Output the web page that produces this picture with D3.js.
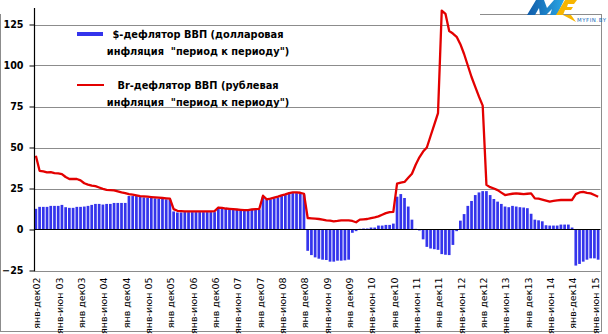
<!DOCTYPE html>
<html><head><meta charset="utf-8">
<script src="https://cdn.jsdelivr.net/npm/d3@7/dist/d3.min.js"></script>
<style>body{margin:0;background:#fff}svg{display:block}</style>
</head><body>
<svg id="c" width="608" height="334"></svg>
<script>
// ---- DATA ----
const monthNames = ["янв","фев","мар","апр","май","июн","июл","авг","сен","окт","ноя","дек"];
const years = ["03","04","05","06","07","08","09","10","11","12","13","14","15"];
const lastMonthOf2015 = 7; // data through July 2015
const firstCategory = "янв-дек02";

// $-deflator (dollar inflation, period to period), one value per category
const usdDeflator = [
  12.6,
  13.8, 13.8, 13.8, 14.4, 14.4, 14.4, 15.0, 13.6, 13.2, 13.2, 13.8, 13.8,
  14.0, 14.4, 15.0, 15.6, 15.6, 15.2, 15.6, 15.6, 16.2, 16.2, 16.2, 16.2,
  20.4, 20.4, 20.4, 20.0, 19.6, 19.4, 19.2, 19.0, 18.8, 18.6, 18.4, 18.2,
  11.0, 10.4, 10.4, 10.6, 10.6, 10.6, 10.6, 10.6, 10.6, 10.6, 10.6, 10.6,
  13.0, 12.8, 12.6, 12.4, 12.4, 12.2, 12.0, 11.8, 11.8, 12.0, 12.2, 12.2,
  20.0, 18.2, 18.4, 19.0, 19.6, 20.4, 21.0, 21.8, 22.2, 22.2, 22.0, 21.4,
  -13.0, -15.6, -17.0, -17.8, -18.4, -18.6, -19.6, -19.6, -19.0, -19.0, -18.8, -18.4,
  -2.0, -1.0, 0.4, 0.6, 0.6, 1.2, 1.2, 2.4, 2.4, 2.8, 2.8, 3.6,
  20.0, 21.6, 19.2, 14.0, 6.0, 0.4, -0.6, -6.0, -10.6, -11.6, -12.0, -12.4,
  -15.0, -15.4, -15.6, -9.4, -1.0, 5.4, 9.4, 14.4, 17.4, 21.0, 22.6, 23.4,
  23.4, 21.0, 18.6, 17.0, 15.6, 14.0, 13.6, 14.4, 14.0, 13.6, 13.4, 13.0,
  9.6, 6.0, 5.6, 5.0, 2.6, 2.4, 2.4, 2.4, 3.0, 3.0, 3.0, 1.2,
  -22.0, -21.0, -19.6, -18.4, -17.6, -17.6, -18.4
];

// Br-deflator (ruble inflation, period to period)
const brDeflator = [
  45.0,
  35.8, 35.4, 34.8, 35.0, 34.4, 34.2, 33.8, 32.0, 30.8, 30.8, 30.8, 30.0,
  28.2, 27.4, 26.8, 26.4, 25.6, 24.8, 24.2, 24.0, 23.8, 23.2, 22.6, 22.2,
  21.6, 21.2, 20.8, 20.4, 20.2, 20.0, 19.8, 19.6, 19.4, 19.2, 19.0, 18.8,
  12.4, 11.4, 11.2, 11.0, 11.0, 11.0, 11.0, 11.0, 11.0, 11.0, 11.0, 11.2,
  13.4, 13.2, 12.8, 12.6, 12.4, 12.2, 12.0, 11.8, 11.8, 12.2, 12.4, 12.6,
  20.6, 18.4, 18.8, 19.4, 20.0, 20.8, 21.4, 22.2, 22.6, 22.6, 22.4, 21.8,
  7.0, 6.8, 6.6, 6.4, 6.0, 5.6, 5.4, 5.0, 5.2, 5.6, 5.6, 5.6,
  5.2, 4.4, 6.0, 6.2, 6.4, 7.0, 7.4, 8.0, 9.0, 10.0, 10.6, 10.8,
  28.0, 28.6, 29.0, 31.5, 34.0, 39.5, 44.0, 47.5, 50.0, 57.0, 64.0, 71.0,
  133.5, 131.5, 121.0, 119.5, 117.5, 113.0, 107.0, 100.0, 93.0, 87.0, 81.0, 75.5,
  27.2, 25.8, 25.0, 24.0, 22.5, 21.0, 21.4, 21.8, 22.0, 21.8, 21.6, 21.8,
  22.0, 19.0, 18.8, 18.2, 17.6, 17.0, 17.4, 17.8, 18.0, 18.0, 18.0, 18.0,
  21.6, 22.6, 23.0, 22.4, 22.0, 21.0, 20.0
];

const tickLabels = [
  "янв-дек02","янв-июн 03","янв дек03","янв-июн 04","янв дек04","янв-июн 05",
  "янв дек05","янв-июн 06","янв дек06","янв-июн 07","янв дек07","янв-июн 08",
  "янв дек08","янв-июн 09","янв дек09","янв-июн 10","янв дек10","янв-июн 11",
  "янв дек11","янв-июн 12","янв дек12","янв-июн 13","янв дек13","янв-июн 14",
  "янв-дек14","янв-июн 15"
];
const tickEvery = 6;
const yTicks = [-25, 0, 25, 50, 75, 100, 125];

const legendUsd = ["$-дефлятор ВВП (долларовая", "инфляция  \"период к периоду\")"];
const legendBr  = ["Br-дефлятор ВВП (рублевая", "инфляция  \"период к периоду\")"];

// build monthly category names
const categories = [firstCategory];
years.forEach(yy => {
  const n = yy === "15" ? lastMonthOf2015 : 12;
  for (let m = 0; m < n; m++) {
    categories.push(m === 0 ? "янв " + yy : "янв-" + monthNames[m] + " " + yy);
  }
});

// ---- CHART ----
const svg = d3.select("#c");
const plotLeft = 34, plotRight = 600, axisTop = 8;

const x = d3.scaleBand().domain(categories).range([plotLeft, plotRight]).paddingInner(0.27).paddingOuter(0.135);
const y = d3.scaleLinear().domain([-25, 125]).range([270.5, 24.5]);

const BLUE = "#3434ec", RED = "#e30000", GRID = "#8c8c8c";

// borders
svg.append("line").attr("x1", 601.5).attr("x2", 601.5).attr("y1", 14).attr("y2", 332).attr("stroke", GRID);
svg.append("line").attr("x1", 0.5).attr("x2", 601.5).attr("y1", 331.5).attr("y2", 331.5).attr("stroke", GRID);
svg.append("line").attr("x1", 0.5).attr("x2", 0.5).attr("y1", 14).attr("y2", 332).attr("stroke", GRID);
svg.append("line").attr("x1", 480).attr("x2", 601.5).attr("y1", 14.5).attr("y2", 14.5).attr("stroke", GRID);

// gridlines
svg.append("g").selectAll("line").data(yTicks.filter(d => d !== 0)).join("line")
  .attr("x1", plotLeft).attr("x2", 600.5)
  .attr("y1", d => Math.round(y(d)) + 0.5).attr("y2", d => Math.round(y(d)) + 0.5)
  .attr("stroke", GRID).attr("stroke-width", 1);

// legend (under data, transparent)
const lg = svg.append("g").attr("font-family", "DejaVu Sans, Verdana, sans-serif")
  .attr("font-weight", "bold").attr("font-size", "9.8px").attr("fill", "#000");
lg.append("rect").attr("x", 77).attr("y", 32).attr("width", 26).attr("height", 4).attr("fill", BLUE);
lg.append("line").attr("x1", 77).attr("x2", 104).attr("y1", 85).attr("y2", 85).attr("stroke", RED).attr("stroke-width", 2);
[[legendUsd, 38], [legendBr, 88.5]].forEach(([lines, by]) => {
  lines.forEach((t, i) => {
    lg.append("text").attr("x", 198).attr("y", by + i * 17).attr("text-anchor", "middle")
      .style("white-space", "pre").text(t);
  });
});

// bars
svg.append("g").selectAll("rect").data(usdDeflator).join("rect")
  .attr("x", (d, i) => x(categories[i]))
  .attr("width", x.bandwidth())
  .attr("y", d => Math.min(y(d), y(0)))
  .attr("height", d => Math.abs(y(d) - y(0)))
  .attr("fill", BLUE);

// zero axis line
svg.append("line").attr("x1", plotLeft).attr("x2", 600.5).attr("y1", y(0)).attr("y2", y(0))
  .attr("stroke", "#000").attr("stroke-width", 1.2);

// red line
const line = d3.line().x((d, i) => x(categories[i]) + x.bandwidth() / 2).y(d => y(d));
svg.append("path").datum(brDeflator).attr("d", line)
  .attr("fill", "none").attr("stroke", RED).attr("stroke-width", 2.3).attr("stroke-linejoin", "round");

// y axis
const yAxis = d3.axisLeft(y).tickValues(yTicks).tickSize(5).tickPadding(6).tickFormat(d3.format("d"));
const ya = svg.append("g").attr("transform", `translate(${plotLeft + 0.5},0)`).call(yAxis);
ya.select(".domain").remove();
ya.selectAll(".tick line").attr("stroke", "#000");
ya.selectAll("text").attr("font-family", "DejaVu Sans, Verdana, sans-serif")
  .attr("font-weight", "bold").attr("font-size", "9.6px").attr("fill", "#000");
svg.append("line").attr("x1", plotLeft + 0.5).attr("x2", plotLeft + 0.5).attr("y1", axisTop).attr("y2", y(-25) + 0.5)
  .attr("stroke", "#000").attr("stroke-width", 1.2);

// x axis labels
const tickCats = tickLabels.map((t, k) => categories[k * tickEvery]);
const labelOf = new Map(tickCats.map((c, k) => [c, tickLabels[k]]));
const xAxis = d3.axisBottom(x).tickValues(tickCats).tickSize(0).tickFormat(c => labelOf.get(c));
const xa = svg.append("g").attr("transform", `translate(0,${y(-25)})`).call(xAxis);
xa.select(".domain").remove();
xa.selectAll("text")
  .attr("font-family", "DejaVu Sans, Verdana, sans-serif").attr("font-size", "9.5px").attr("fill", "#000")
  .attr("transform", "rotate(-90)").attr("text-anchor", "end")
  .attr("x", -7).attr("y", 1).attr("dy", "0.35em");

// logo (MYFIN.BY)
const logo = svg.append("g");
const defs = svg.append("defs");
const gr = defs.append("linearGradient").attr("id", "lb").attr("x1", "0").attr("x2", "1").attr("y1", "0").attr("y2", "0");
gr.append("stop").attr("offset", "0").attr("stop-color", "#0f5aa8");
gr.append("stop").attr("offset", "1").attr("stop-color", "#2aa6e4");
logo.append("polygon").attr("points", "527,15 536,0 544,0 547,8 554,0 564,0 557,15 550,15 552,9 546,15 540,15 539,8 535,15")
  .attr("fill", "url(#lb)");
logo.append("polygon").attr("points", "556,15 565,0 577,0 574,4 568,4 567,7 573,7 571,10 565,10 563,15")
  .attr("fill", "#f7b500");
logo.append("polygon").attr("points", "563,15 571,15 576,22").attr("fill", "#f7b500");
const lt = logo.append("text").attr("x", 577).attr("y", 21.5).attr("font-family", "DejaVu Sans, sans-serif")
  .attr("font-size", "5.4px").attr("textLength", 29).attr("lengthAdjust", "spacing").attr("fill", "#1d6fc0");
lt.append("tspan").text("MYFIN");
lt.append("tspan").attr("fill", "#f7b500").text(".");
lt.append("tspan").text("BY");
</script>
</body></html>
